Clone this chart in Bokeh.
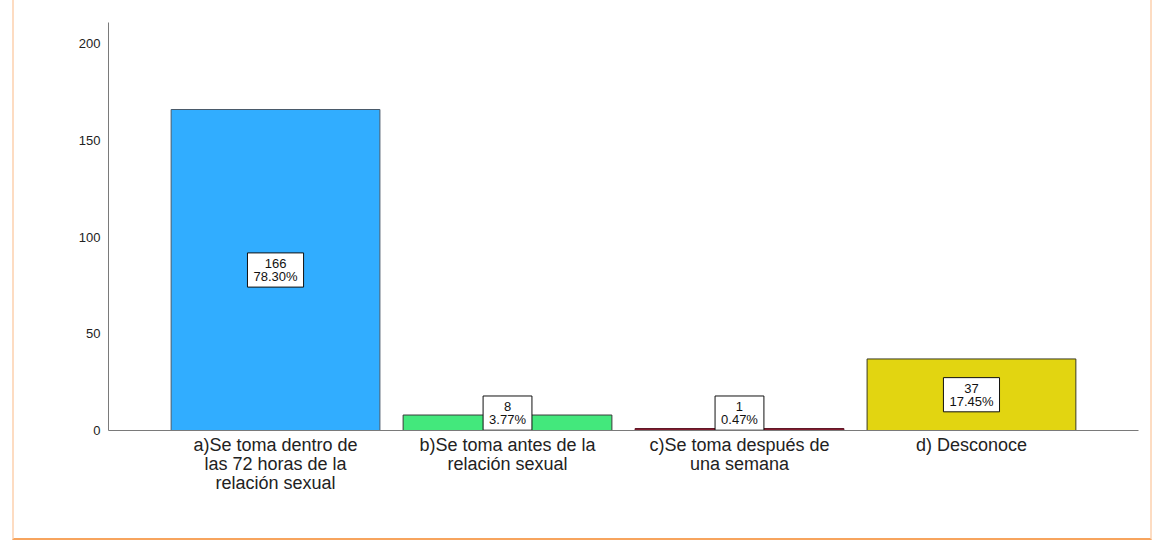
from bokeh.plotting import figure
from bokeh.models import ColumnDataSource, FactorRange, FixedTicker, Range1d
from bokeh.core.properties import value
from bokeh.embed import file_html
from bokeh.resources import INLINE

categories = [
    "a)Se toma dentro de\nlas 72 horas de la\nrelación sexual",
    "b)Se toma antes de la\nrelación sexual",
    "c)Se toma después de\nuna semana",
    "d) Desconoce",
]
counts = [166, 8, 1, 37]
percents = ["78.30%", "3.77%", "0.47%", "17.45%"]
colors = ["#31ADFF", "#43E87C", "#861C2E", "#E2D511"]
outline_colors = ["#4a5a6a", "#3a3a3a", "#5a1020", "#3a3a20"]
y_ticks = [0, 50, 100, 150, 200]

label_y = [max(c / 2, 9) for c in counts]
label_text = [f"{c}\n{p}" for c, p in zip(counts, percents)]

src = ColumnDataSource(dict(cat=categories, count=counts, color=colors,
                            lc=outline_colors, ly=label_y, txt=label_text))

p = figure(
    width=1140, height=540,
    x_range=FactorRange(factors=categories, range_padding=0.22, range_padding_units="absolute"),
    y_range=Range1d(0, 211),
    output_backend="svg", toolbar_location=None,
    min_border_left=94, min_border_right=16, min_border_top=22, min_border_bottom=110,
)
p.margin = (0, 0, 0, 12)
p.styles = {
    "border-left": "2px solid #FDDCC2",
    "border-right": "2px solid #FDDCC2",
    "border-bottom": "2px solid #F7A45E",
}
p.outline_line_color = None
p.grid.visible = False
p.background_fill_color = "white"
p.border_fill_color = "white"

p.vbar(x="cat", top="count", width=0.9, source=src, fill_color="color",
       line_color="lc", line_width=1)

p.text(x="cat", y="ly", text="txt", source=src,
       text_align="center", text_baseline="middle",
       text_font=value("Liberation Sans"), text_font_size="13px", text_color="#111111",
       text_line_height=0.88,
       background_fill_color="white", border_line_color="#111111",
       border_line_width=1, padding=(6, 3))

p.yaxis.ticker = FixedTicker(ticks=y_ticks)
p.yaxis.major_tick_line_color = None
p.yaxis.minor_tick_line_color = None
p.yaxis.major_tick_out = 0
p.yaxis.major_tick_in = 0
p.yaxis.axis_line_color = "#7a7a7a"
p.yaxis.major_label_text_font = "Liberation Sans"
p.yaxis.major_label_text_font_size = "13px"
p.yaxis.major_label_text_color = "#222222"
p.yaxis.major_label_standoff = 8

p.xaxis.major_tick_line_color = None
p.xaxis.minor_tick_line_color = None
p.xaxis.major_tick_out = 0
p.xaxis.major_tick_in = 0
p.xaxis.axis_line_color = "#7a7a7a"
p.xaxis.major_label_text_font = "Liberation Sans"
p.xaxis.major_label_text_font_size = "18px"
p.xaxis.major_label_text_color = "#222222"
p.xaxis.major_label_text_line_height = 0.95
p.xaxis.major_label_standoff = 4

open("out.html", "w").write(file_html(p, INLINE))
